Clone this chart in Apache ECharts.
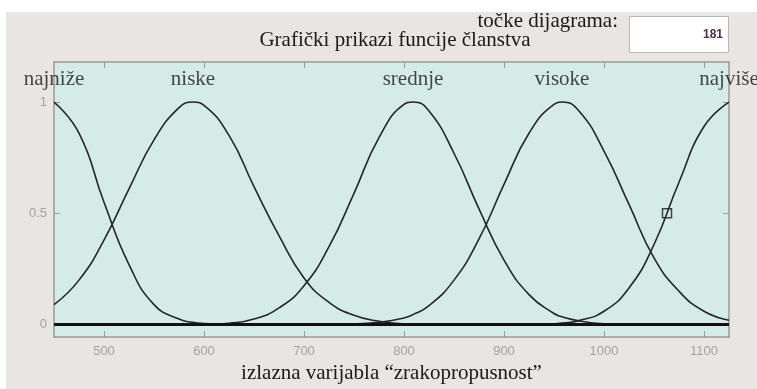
<!DOCTYPE html>
<html>
<head>
<meta charset="utf-8">
<script src="https://cdn.jsdelivr.net/npm/echarts@6/dist/echarts.min.js"></script>
<style>
  html, body { margin: 0; padding: 0; background: #ffffff; }
  #chart { width: 757px; height: 389px; }
</style>
</head>
<body>
<div id="chart"></div>
<script>
//--------------------- Data ---------------------------//
// x positions of the sampled points (output variable)
const xs = [450, 475, 500, 525, 550, 575, 589, 600, 625, 650, 675, 700, 725, 750, 775,
  800, 809, 825, 850, 875, 900, 925, 950, 958, 975, 1000, 1025, 1050, 1075, 1100, 1125];

// membership values
const najnize = [1, 0.86, 0.55, 0.27, 0.09, 0.025, 0.01, 0.005, 0.001,
  0, 0, 0, 0, 0, 0, 0, 0, 0, 0, 0, 0, 0, 0, 0, 0, 0, 0, 0, 0, 0, 0];
const niske = [0.09, 0.2, 0.38, 0.61, 0.83, 0.975, 1, 0.985, 0.85, 0.62, 0.4, 0.21, 0.1, 0.042,
  0.015, 0.004, 0.003, 0.001, 0, 0, 0, 0, 0, 0, 0, 0, 0, 0, 0, 0, 0];
const srednje = [0, 0, 0, 0, 0, 0, 0, 0, 0.006, 0.025, 0.075, 0.175, 0.35, 0.59, 0.84,
  0.99, 1, 0.96, 0.77, 0.52, 0.29, 0.135, 0.05, 0.035, 0.017, 0.004, 0.001, 0, 0, 0, 0];
const visoke = [0, 0, 0, 0, 0, 0, 0, 0, 0, 0, 0, 0, 0, 0.003, 0.01,
  0.03, 0.045, 0.085, 0.2, 0.385, 0.63, 0.86, 0.99, 1, 0.96, 0.78, 0.54, 0.3, 0.15, 0.06, 0.02];
const najvise = [0, 0, 0, 0, 0, 0, 0, 0, 0, 0, 0, 0, 0, 0, 0,
  0, 0, 0, 0, 0, 0, 0.001, 0.004, 0.007, 0.018, 0.06, 0.165, 0.36, 0.64, 0.89, 1];

const mfNames = ['najniže', 'niske', 'srednje', 'visoke', 'najviše'];
const mfCenters = [450, 589, 809, 958, 1125];
const nameLevel = 1.1; // MATLAB puts the names above the curves

const xTicks = [500, 600, 700, 800, 900, 1000, 1100];
const yTicks = [0, 0.5, 1];
const marker = [1063, 0.5]; // selected point (small square)
const pointCount = '181';

//--------------------- Styles ---------------------------//
const serif = '"Liberation Serif", "Times New Roman", serif';
const sans = '"Liberation Sans", Arial, sans-serif';
const axisGrey = '#9a9a9a';
const labelGrey = '#a3a3a3';
const curveColor = '#262626';

function curveSeries(name, values) {
  return {
    name: name,
    type: 'line',
    data: xs.map((x, i) => [x, values[i]]),
    smooth: 0.5,
    showSymbol: false,
    lineStyle: { color: curveColor, width: 1.6 },
    silent: true,
  };
}

// x/y axis copies to get the MATLAB box with ticks on all sides
function boxAxis(kind, position) {
  const base = {
    type: 'value',
    position: position,
    axisLine: { show: true, onZero: false, lineStyle: { color: axisGrey, width: 1.5 } },
    axisTick: { show: true, inside: true, length: 6, lineStyle: { color: axisGrey } },
    axisLabel: { show: false },
    splitLine: { show: false },
  };
  if (kind === 'x') {
    return Object.assign(base, {
      min: 450, max: 1125,
      axisTick: Object.assign(base.axisTick, { customValues: xTicks }),
    });
  }
  return Object.assign(base, {
    min: -0.056, max: 1.18,
    axisTick: Object.assign(base.axisTick, { customValues: yTicks }),
  });
}

//--------------------- Chart ---------------------------//
const chart = echarts.init(document.getElementById('chart'), null, { renderer: 'canvas' });

const bottomX = boxAxis('x', 'bottom');
bottomX.axisLabel = {
  show: true, customValues: xTicks, margin: 8,
  formatter: (v) => String(v),
  color: labelGrey, fontFamily: sans, fontSize: 13,
};
bottomX.name = 'izlazna varijabla “zrakopropusnost”';
bottomX.nameLocation = 'middle';
bottomX.nameGap = 21;
bottomX.nameTextStyle = { fontFamily: serif, fontSize: 21, color: '#1a1a1a', verticalAlign: 'top' };

const leftY = boxAxis('y', 'left');
leftY.axisLabel = {
  show: true, customValues: yTicks, margin: 7,
  formatter: (v) => String(v),
  color: labelGrey, fontFamily: sans, fontSize: 13,
};

const option = {
  animation: false,
  backgroundColor: '#ffffff',
  title: {
    text: 'Grafički prikazi funcije članstva',
    left: 395, top: 30, padding: 0,
    textAlign: 'center',
    textStyle: { fontFamily: serif, fontSize: 21, fontWeight: 'normal', color: '#1a1a1a' },
  },
  grid: { left: 54, right: 28, top: 62, bottom: 43, show: true, backgroundColor: '#d4ebe7', borderWidth: 0 },
  xAxis: [bottomX, boxAxis('x', 'top')],
  yAxis: [leftY, boxAxis('y', 'right')],
  graphic: [
    // grey figure panel
    { type: 'rect', z: -10, shape: { x: 6, y: 12, width: 751, height: 377 }, style: { fill: '#e8e5e2' } },
    // "točke dijagrama" edit box
    { type: 'text', x: 618, y: 21, style: {
        text: 'točke dijagrama:', align: 'right', verticalAlign: 'middle',
        font: '21px ' + serif, fill: '#1a1a1a' } },
    { type: 'rect', shape: { x: 629.5, y: 16.5, width: 99, height: 36 },
      style: { fill: '#ffffff', stroke: '#b8b8b8', lineWidth: 1 } },
    { type: 'text', x: 723, y: 35, style: {
        text: pointCount, align: 'right', verticalAlign: 'middle',
        font: 'bold 12px ' + sans, fill: '#4a3048' } },
  ],
  series: [
    curveSeries(mfNames[0], najnize),
    curveSeries(mfNames[1], niske),
    curveSeries(mfNames[2], srednje),
    curveSeries(mfNames[3], visoke),
    curveSeries(mfNames[4], najvise),
    {
      // thick zero line
      type: 'line', data: [], silent: true,
      markLine: {
        silent: true, symbol: 'none', label: { show: false },
        lineStyle: { color: '#111111', width: 3, type: 'solid' },
        data: [{ yAxis: 0 }],
      },
    },
    {
      // membership function names
      type: 'scatter', clip: false, silent: true, symbolSize: 0,
      data: mfCenters.map((c, i) => ({ value: [c, nameLevel], name: mfNames[i] })),
      label: {
        show: true, position: 'inside', formatter: '{b}',
        fontFamily: serif, fontSize: 21, color: '#1a1a1a',
      },
    },
    {
      type: 'scatter', silent: true, symbol: 'rect', symbolSize: 9,
      data: [marker],
      itemStyle: { color: 'rgba(0,0,0,0)', borderColor: '#1a1a1a', borderWidth: 1.5 },
    },
  ],
};

chart.setOption(option);
</script>
</body>
</html>
